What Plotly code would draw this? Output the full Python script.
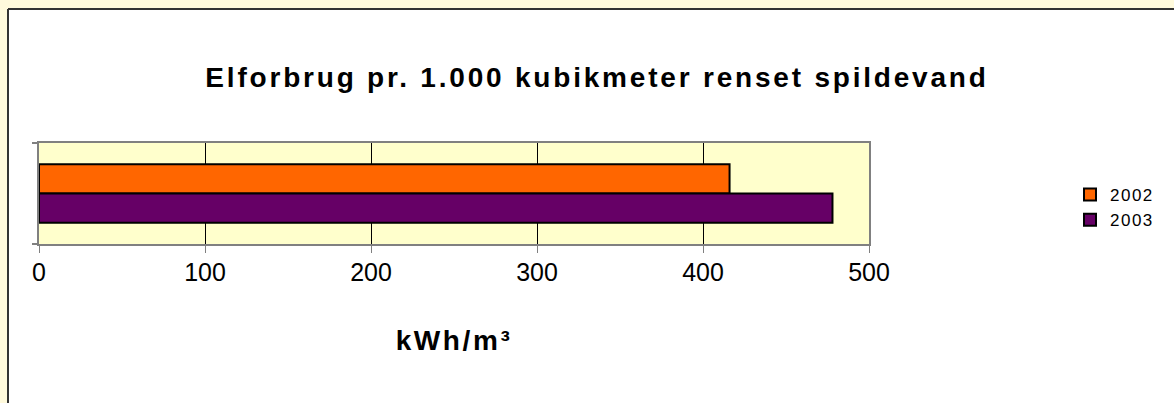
import plotly.graph_objects as go

# Electricity use per 1,000 m³ of treated wastewater
categories = ["Elforbrug"]
years = ["2002", "2003"]
values_2002 = [416]
values_2003 = [478]
bar_colors = ["#FF6600", "#660066"]
x_ticks = [0, 100, 200, 300, 400, 500]

W, H = 1174, 403
L, R, T, B = 39, 869, 143, 244  # plot area in pixels

def px_x(p):
    return (p - L) / (R - L)

def px_y(p):
    return (B - p) / (B - T)

fig = go.Figure()
for name, vals, col in zip(years, [values_2002, values_2003], bar_colors):
    fig.add_trace(go.Bar(
        y=categories, x=vals, name=name, orientation="h",
        marker=dict(color=col, line=dict(color="#000000", width=2)),
    ))

shapes = [
    # pale yellow strip along the top and left edges
    dict(type="rect", xref="paper", yref="paper", x0=px_x(-50), x1=px_x(W + 50),
         y0=px_y(9), y1=px_y(-50), fillcolor="#FFFADC", line=dict(width=0)),
    dict(type="rect", xref="paper", yref="paper", x0=px_x(-50), x1=px_x(8),
         y0=px_y(H + 50), y1=px_y(-50), fillcolor="#FFFADC", line=dict(width=0)),
    # chart frame
    dict(type="line", xref="paper", yref="paper", x0=px_x(8), x1=px_x(W + 50),
         y0=px_y(9), y1=px_y(9), line=dict(color="#333333", width=2)),
    dict(type="line", xref="paper", yref="paper", x0=px_x(8), x1=px_x(8),
         y0=px_y(9), y1=px_y(H + 50), line=dict(color="#333333", width=2)),
]

fig.update_layout(
    width=W, height=H,
    margin=dict(l=L, r=W - R, t=T, b=H - B, pad=0),
    paper_bgcolor="#FFFFFF",
    plot_bgcolor="#FFFFCC",
    barmode="group",
    bargap=0.42,
    bargroupgap=0,
    showlegend=True,
    font=dict(family="Liberation Sans, Arial", color="#000000"),
    title=dict(
        text="<b>Elforbrug pr. 1.000 kubikmeter renset spildevand</b>",
        xref="container", yref="container", x=597 / W, y=1 - 77 / H,
        xanchor="center", yanchor="middle",
        font=dict(size=28, family="Liberation Sans, Arial", color="#000000"),
    ),
    xaxis=dict(
        range=[0, 500], tickvals=x_ticks, ticktext=[str(v) for v in x_ticks],
        showgrid=True, gridcolor="#000000", gridwidth=1, zeroline=False,
        showline=True, linecolor="#808080", linewidth=2, mirror=True,
        ticks="outside", ticklen=7, tickcolor="#808080", tickwidth=1,
        tickfont=dict(size=25, color="#000000"), ticklabelstandoff=-2,
        title=dict(text="<b>kWh/m³</b>", font=dict(size=28, color="#000000"), standoff=45),
    ),
    yaxis=dict(
        autorange="reversed", showticklabels=False,
        tickson="boundaries", ticks="outside", ticklen=5, tickcolor="#808080", tickwidth=2,
        showgrid=False, zeroline=False,
        showline=True, linecolor="#808080", linewidth=2, mirror=True,
    ),
    legend=dict(
        xref="container", yref="container",
        x=1070 / W, y=1 - 177 / H, xanchor="left", yanchor="top",
        bgcolor="rgba(0,0,0,0)", font=dict(size=17, color="#000000"),
        itemwidth=30, tracegroupgap=0, traceorder="normal",
    ),
    shapes=shapes,
)

# widen the character spacing of the chart texts
spacing_js = """
var gd = document.getElementById('{plot_id}');
function spread(sel, px) {
  gd.querySelectorAll(sel).forEach(function (el) { el.style.letterSpacing = px; });
}
spread('.gtitle', '2.8px');
spread('.xtitle', '2.6px');
spread('.legendtext', '1.5px');
"""

fig.write_html("out.html", post_script=spacing_js)
